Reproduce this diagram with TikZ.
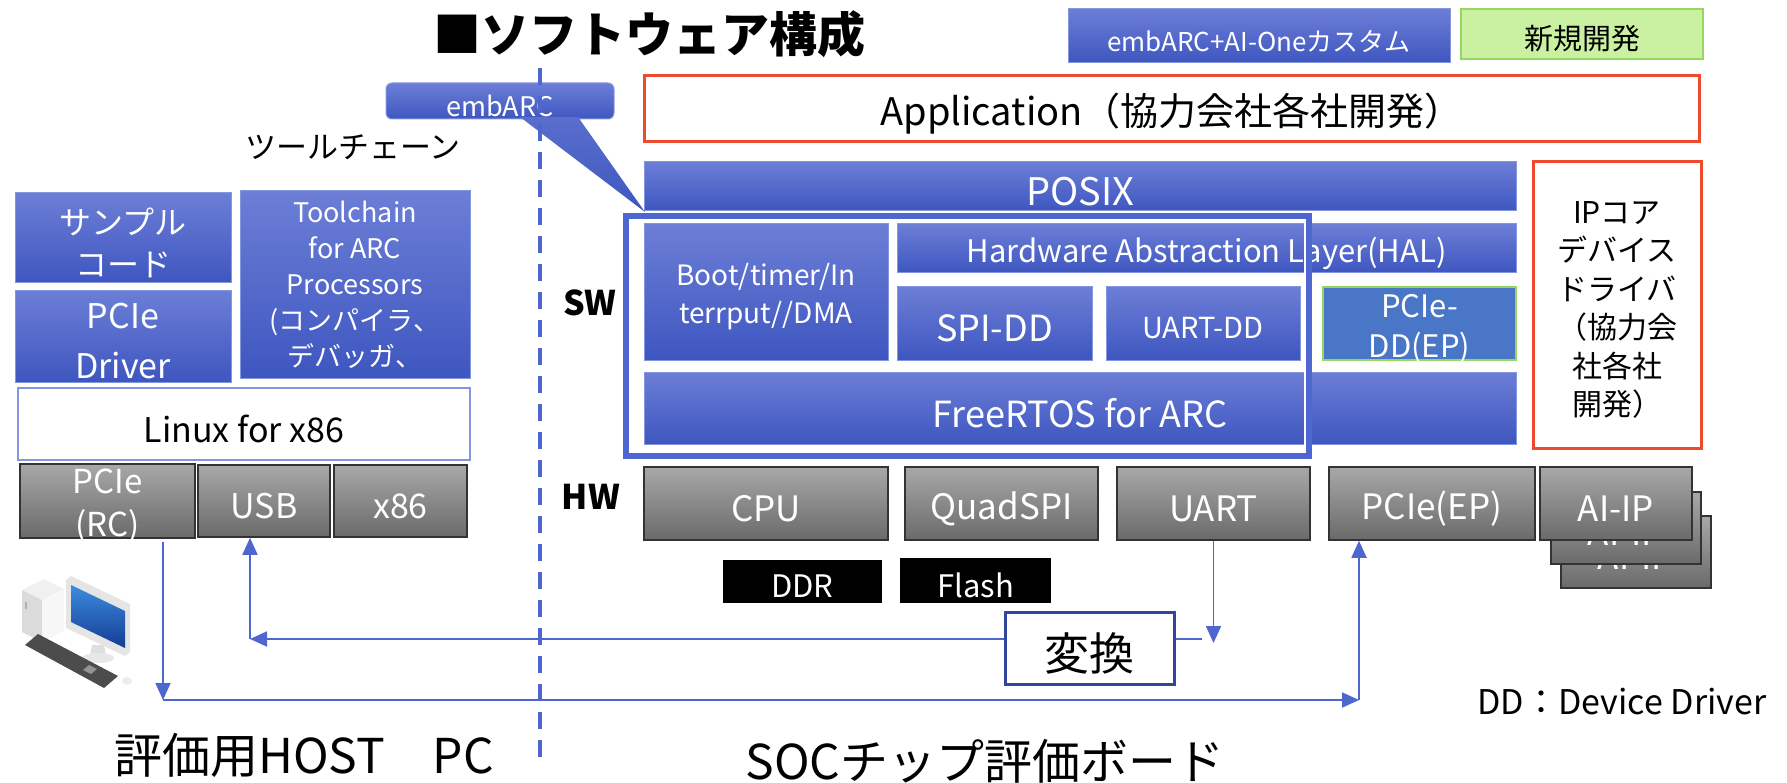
\documentclass[tikz,border=0pt]{standalone}
\usepackage{fontspec}
\setmainfont{Noto Sans CJK JP}
\usetikzlibrary{arrows.meta}

\newcommand\fsz[2]{\fontsize{#1}{#2}\selectfont}
\newcommand\lowtext[1]{\raisebox{-5pt}[\height][\depth]{#1}}

\definecolor{boxtop}{RGB}{108,126,214}
\definecolor{boxbot}{RGB}{62,86,192}
\definecolor{boxline}{RGB}{132,150,224}
\definecolor{hwtop}{RGB}{168,168,168}
\definecolor{hwbot}{RGB}{106,106,106}
\definecolor{arcblue}{RGB}{78,102,208}
\definecolor{appred}{RGB}{238,74,44}
\definecolor{newgreen}{RGB}{202,240,162}
\definecolor{newline}{RGB}{150,215,95}
\definecolor{epblue}{RGB}{74,118,200}
\definecolor{convline}{RGB}{50,70,160}

\begin{document}
\begin{tikzpicture}[x=1pt, y=-1pt,
	sw/.style={draw=boxline, line width=1pt, top color=boxtop, bottom color=boxbot, text=white, inner sep=0pt, align=center},
	hw/.style={draw=black!80, line width=1.5pt, top color=hwtop, bottom color=hwbot, text=white, inner sep=0pt, align=center},
	redbox/.style={draw=appred, line width=3pt, fill=white, inner sep=0pt, align=center},
	chip/.style={fill=black, text=white, inner sep=0pt, font=\fsz{31}{34}},
	link/.style={draw=arcblue, line width=1.8pt, -{Triangle[width=15pt,length=17pt]}}
	]
	
	\useasboundingbox (0,0) rectangle (1787,783);
	
	% title and legend
	\node[font=\bfseries\fsz{48}{52}] (title) at (649,34) {■ソフトウェア構成};
	\node[sw, minimum width=382pt, minimum height=54pt, font=\fsz{26}{30}] (legarc) at (1259,36) {\lowtext{embARC+AI-Oneカスタム}};
	\node[draw=newline, fill=newgreen, line width=1.5pt, minimum width=242pt, minimum height=50pt, font=\fsz{29}{32}] (legnew) at (1582,34) {\lowtext{新規開発}};
	
	% host pc side
	\node[font=\fsz{31}{34}] (tools) at (353,147) {ツールチェーン};
	\node[sw, minimum width=216pt, minimum height=90pt, font=\fsz{32}{42}] (sample) at (123,238) {\lowtext{サンプル}\\\lowtext{コード}};
	\node[sw, minimum width=216pt, minimum height=91pt, font=\fsz{34}{50}] (pcidrv) at (123,336.5) {\lowtext{PCIe}\\\lowtext{Driver}};
	\node[sw, minimum width=230pt, minimum height=187pt, font=\fsz{27}{36}] (toolchain) at (355,284.5) {Toolchain\\for ARC\\Processors\\(コンパイラ、\\デバッガ、};
	\node[draw=boxline, line width=1.5pt, fill=white, minimum width=452pt, minimum height=72pt, font=\fsz{34}{38}] (linux) at (244,424) {\lowtext{Linux for x86}};
	\node[hw, minimum width=175pt, minimum height=72pt, font=\fsz{33}{43}] (pcierc) at (107.5,501) {\lowtext{PCIe}\\\lowtext{(RC)}};
	\node[hw, minimum width=132pt, minimum height=72pt, font=\fsz{34}{38}] (usb) at (264,501) {\lowtext{USB}};
	\node[hw, minimum width=133pt, minimum height=72pt, font=\fsz{34}{38}] (xhost) at (400.5,501) {\lowtext{x86}};
	
	% desktop computer
	\fill[gray!12] (22,590) -- (44,579) -- (64,589) -- (42,600) -- cycle;
	\fill[gray!28] (22,590) -- (42,600) -- (42,642) -- (22,632) -- cycle;
	\fill[gray!6] (42,600) -- (64,589) -- (64,631) -- (42,642) -- cycle;
	\fill[gray!60] (25,602) rectangle (27,609);
	\fill[gray!25] (92,645) -- (104,645) -- (106,656) -- (90,656) -- cycle;
	\fill[gray!18] (98,658) ellipse (16 and 5);
	\fill[gray!20] (66,580) -- (71,576) -- (130,604) -- (130,652) -- (125,656) -- (66,628) -- cycle;
	\shade[top color={rgb,255:red,60;green,140;blue,220}, bottom color={rgb,255:red,20;green,60;blue,150}] (71,585) -- (125,611) -- (125,648) -- (71,622) -- cycle;
	\fill[black!70] (25,645) -- (38,634) -- (118,676) -- (104,688) -- cycle;
	\fill[gray!85] (83,670) -- (89,665) -- (97,669) -- (91,674) -- cycle;
	\fill[gray!15] (127,681) ellipse (5 and 4);
	
	\node[font=\fsz{48}{52}] (hostpc) at (304,755) {評価用HOST　PC};
	
	% board side, software
	\node[redbox, minimum width=1055pt, minimum height=66pt, font=\fsz{38}{42}] (app) at (1171.5,109) {\lowtext{Application（協力会社各社開発）}};
	\node[sw, minimum width=872pt, minimum height=49pt, font=\fsz{38}{40}] (posix) at (1080,186.5) {\lowtext{POSIX}};
	\node[redbox, minimum width=168pt, minimum height=286pt, font=\fsz{30}{38.5}] (ipcore) at (1617,305) {\lowtext{IPコア}\\\lowtext{デバイス}\\\lowtext{ドライバ}\\\lowtext{（協力会}\\\lowtext{社各社}\\\lowtext{開発）}};
	\node[sw, minimum width=244pt, minimum height=136pt, font=\fsz{28}{38}] (boot) at (766,292) {\lowtext{Boot/timer/In}\\\lowtext{terrput//DMA}};
	\node[sw, minimum width=619pt, minimum height=49pt, font=\fsz{31}{34}] (hal) at (1206.5,248.5) {\lowtext{Hardware Abstraction Layer(HAL)}};
	\node[sw, minimum width=195pt, minimum height=73pt, font=\fsz{36}{40}] (spidd) at (994.5,323.5) {\lowtext{SPI-DD}};
	\node[sw, minimum width=194pt, minimum height=73pt, font=\fsz{29}{32}] (uartdd) at (1203,323.5) {\lowtext{UART-DD}};
	\node[draw=newline, line width=1.5pt, fill=epblue, text=white, inner sep=0pt, align=center, minimum width=193pt, minimum height=73pt, font=\fsz{31}{40}] (pciedd) at (1419.5,323.5) {\lowtext{PCIe-}\\\lowtext{DD(EP)}};
	\node[sw, minimum width=872pt, minimum height=72pt, font=\fsz{36}{40}] (freertos) at (1080,408) {\lowtext{FreeRTOS for ARC}};
	
	% embARC frame
	\draw[arcblue, line width=6pt] (626,216) rectangle (1309,456);
	\draw[white, line width=2pt] (630,220) rectangle (1305,452);
	
	\node[font=\bfseries\fsz{34}{36}] (swlabel) at (590,303) {SW};
	\node[font=\bfseries\fsz{34}{36}] (hwlabel) at (591,497) {HW};
	
	% board side, hardware
	\node[hw, minimum width=244pt, minimum height=73pt, font=\fsz{35}{38}] (cpu) at (766,503.5) {\lowtext{CPU}};
	\node[hw, minimum width=193pt, minimum height=73pt, font=\fsz{35}{38}] (quadspi) at (1001.5,503.5) {\lowtext{QuadSPI}};
	\node[hw, minimum width=193pt, minimum height=73pt, font=\fsz{35}{38}] (uart) at (1213.5,503.5) {\lowtext{UART}};
	\node[hw, minimum width=206pt, minimum height=73pt, font=\fsz{35}{38}] (pcieep) at (1432,503.5) {\lowtext{PCIe(EP)}};
	\node[hw, minimum width=150pt, minimum height=72pt, font=\fsz{35}{38}] (aiipc) at (1636,552) {\lowtext{AI-IP}};
	\node[hw, minimum width=150pt, minimum height=72pt, font=\fsz{35}{38}] (aiipb) at (1626,528) {\lowtext{AI-IP}};
	\node[hw, minimum width=152pt, minimum height=73pt, font=\fsz{35}{38}] (aiip) at (1616,503.5) {\lowtext{AI-IP}};
	\node[chip, minimum width=159pt, minimum height=43pt] (ddr) at (802.5,581.5) {\lowtext{DDR}};
	\node[chip, minimum width=151pt, minimum height=45pt] (flash) at (975.5,580.5) {\lowtext{Flash}};
	
	% connections
	\coordinate (uartend) at (1213.5,643);
	\coordinate (convright) at (1202,639);
	\coordinate (usbcorner) at (250,639);
	\coordinate (rcstart) at (163,542);
	\coordinate (rccorner) at (163,700);
	\coordinate (epcorner) at (1359,700);
	\draw[link] (uart.south) -- (uartend);
	\draw[link] (convright) -- (usbcorner);
	\draw[link] (usbcorner) -- (usbcorner |- usb.south);
	\draw[link] (rcstart) -- (rccorner);
	\draw[link] (rccorner) -- (epcorner);
	\draw[link] (epcorner) -- (epcorner |- pcieep.south);
	
	\node[draw=convline, line width=3pt, fill=white, minimum width=169pt, minimum height=72pt, font=\fsz{45}{48}] (conv) at (1089.5,648) {\lowtext{変換}};
	
	\node[font=\fsz{34}{38}, anchor=west] (ddnote) at (1474,702) {DD：Device Driver};
	\node[font=\fsz{48}{52}] (board) at (985,761) {SOCチップ評価ボード};
	
	% embARC callout
	\node[sw, rounded corners=6pt, minimum width=228pt, minimum height=36pt, font=\fsz{27}{30}] (embarc) at (500,101) {\lowtext{embARC}};
	\shade[top color=boxtop!60!boxbot, bottom color=boxbot, draw=none] (520,117) -- (645,212) -- (578,117) -- cycle;
	
	% host / board border
	\draw[arcblue, line width=3.5pt, dash pattern=on 17pt off 11pt] (540,68) -- (540,765);
	
\end{tikzpicture}
\end{document}
